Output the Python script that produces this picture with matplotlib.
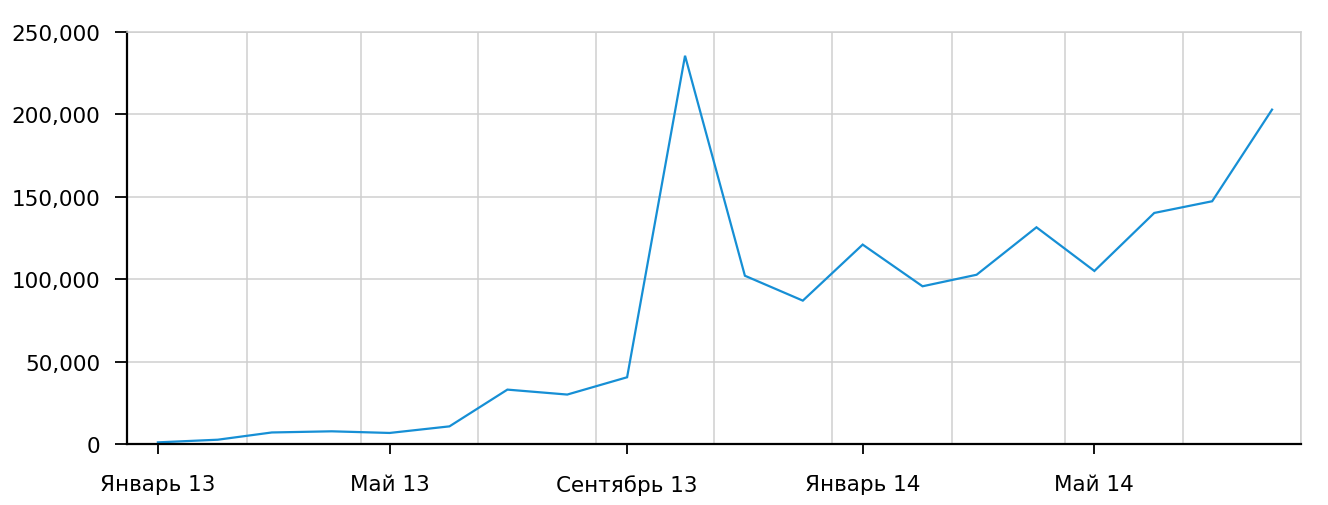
import matplotlib
matplotlib.use("Agg")
import matplotlib.pyplot as plt
import matplotlib.dates as mdates
import matplotlib.ticker as mticker
import pandas as pd

# Monthly values, Jan 2013 - Aug 2014
months = ["2013-01", "2013-02", "2013-03", "2013-04", "2013-05", "2013-06",
          "2013-07", "2013-08", "2013-09", "2013-10", "2013-11", "2013-12",
          "2014-01", "2014-02", "2014-03", "2014-04", "2014-05", "2014-06",
          "2014-07", "2014-08"]
values = [1000, 2600, 7000, 7700, 6700, 10700,
          33000, 30000, 40500, 235600, 102100, 87000,
          121000, 95700, 102700, 131500, 105000, 140200,
          147300, 202900]

tick_dates = ["2013-01-01", "2013-05-01", "2013-09-01", "2014-01-01", "2014-05-01"]
tick_labels = ["Январь 13", "Май 13", "Сентябрь 13", "Январь 14", "Май 14"]

dates = pd.to_datetime(months)

plt.rcParams["font.family"] = ["DejaVu Sans"]

fig = plt.figure(figsize=(13.28, 5.06), dpi=100)
ax = fig.add_axes([127 / 1328, (506 - 445) / 506, (1301 - 127) / 1328, (445 - 33) / 506])

ax.plot(dates, values, color="#168fd5", linewidth=1.6, solid_joinstyle="miter")

# axis ranges
ax.set_xlim(pd.Timestamp("2012-12-16"), pd.Timestamp("2014-08-16"))
ax.set_ylim(0, 250000)

# x ticks: labelled months + mid-month grid lines every 2 months
ax.xaxis.set_major_locator(mticker.FixedLocator(mdates.date2num(pd.to_datetime(tick_dates))))
ax.xaxis.set_major_formatter(mticker.FixedFormatter(tick_labels))
ax.xaxis.set_minor_locator(mdates.MonthLocator(bymonth=(2, 4, 6, 8, 10, 12), bymonthday=16))
ax.tick_params(axis="x", which="major", length=7.5, width=1.3, pad=14, labelsize=15.5, colors="black")
ax.tick_params(axis="x", which="minor", length=0)
ax.grid(True, axis="x", which="minor", color="#cfcfcf", linewidth=1.1)

# y ticks
ax.yaxis.set_major_locator(mticker.MultipleLocator(50000))
ax.yaxis.set_major_formatter(mticker.FuncFormatter(lambda v, p: "{:,.0f}".format(v)))
ax.tick_params(axis="y", length=9, width=1.3, pad=10, labelsize=15.5)
ax.grid(True, axis="y", which="major", color="#cfcfcf", linewidth=1.1)
ax.set_axisbelow(True)

for side in ["left", "bottom"]:
    ax.spines[side].set_color("black")
    ax.spines[side].set_linewidth(1.6)
for side in ["top", "right"]:
    ax.spines[side].set_color("#cfcfcf")
    ax.spines[side].set_linewidth(1.1)

fig.savefig("out.png", dpi=100)
